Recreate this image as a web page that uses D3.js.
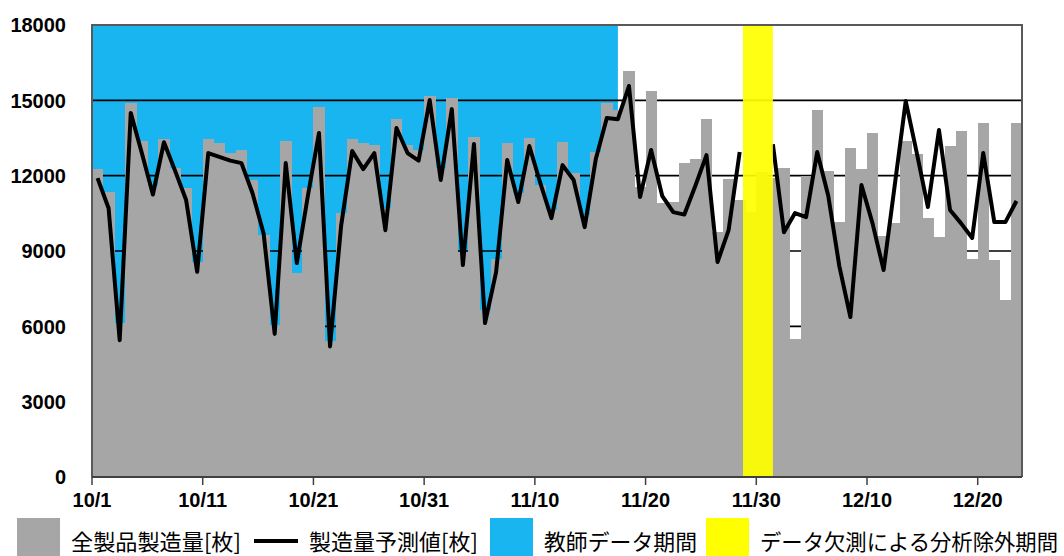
<html>
<head>
<meta charset="utf-8">
<script src="https://d3js.org/d3.v7.min.js"></script>
<style>
  body { margin: 0; background: #fff; }
  text { font-family: "Liberation Sans", Arial, sans-serif; }
  .jp { font-family: "Noto Sans CJK JP", sans-serif; }
</style>
</head>
<body>
<svg id="chart" width="1064" height="556"></svg>
<script>
// daily categories 10/1 .. 12/23
var days = [
  "10/1","10/2","10/3","10/4","10/5","10/6","10/7","10/8","10/9","10/10",
  "10/11","10/12","10/13","10/14","10/15","10/16","10/17","10/18","10/19","10/20",
  "10/21","10/22","10/23","10/24","10/25","10/26","10/27","10/28","10/29","10/30",
  "10/31","11/1","11/2","11/3","11/4","11/5","11/6","11/7","11/8","11/9",
  "11/10","11/11","11/12","11/13","11/14","11/15","11/16","11/17","11/18","11/19",
  "11/20","11/21","11/22","11/23","11/24","11/25","11/26","11/27","11/28","11/29",
  "11/30","12/1","12/2","12/3","12/4","12/5","12/6","12/7","12/8","12/9",
  "12/10","12/11","12/12","12/13","12/14","12/15","12/16","12/17","12/18","12/19",
  "12/20","12/21","12/22","12/23"
];
var tickDays = ["10/1","10/11","10/21","10/31","11/10","11/20","11/30","12/10","12/20"];
var yTicks = [0, 3000, 6000, 9000, 12000, 15000, 18000];

// 全製品製造量[枚]
var production = [
  12260,11350,6130,14890,13380,11600,13460,12300,11500,8560,
  13460,13300,12900,13020,11830,9640,6050,13380,8120,11500,
  14740,5400,10510,13450,13300,13220,10710,14250,13220,13020,
  15170,12300,15090,8960,13540,6650,8680,13300,11300,13500,
  11630,10630,13340,12100,10430,12940,14890,14600,16170,11550,
  15370,10900,10950,12500,12660,14250,9750,11870,11030,10550,
  12150,11900,12300,5500,12000,14620,12180,10150,13100,12260,
  13700,9600,10100,13380,12860,10310,9560,13180,13780,8700,
  14100,8650,7050,14100
];
// 製造量予測値[枚] (null = 欠測)
var forecast = [
  11900,10700,5450,14500,12900,11250,13330,12200,11030,8170,
  12900,12750,12600,12500,11300,9700,5700,12500,8520,11200,
  13700,5200,10000,12980,12260,12900,9830,13900,12900,12600,
  15010,11830,14650,8440,13260,6130,8160,12620,10950,13180,
  11700,10310,12420,11830,9950,12650,14300,14250,15570,11150,
  13020,11200,10550,10450,11600,12820,8560,9830,12940,null,
  null,13250,9750,10510,10350,12940,11200,8400,6370,11630,
  10100,8240,11600,14970,12900,10750,13820,10630,10100,9520,
  12900,10150,10150,10990
];

var teachPeriod = ["10/1", "11/17"];     // 教師データ期間
var missingPeriod = ["11/29", "12/1"];   // データ欠測による分析除外期間

var svg = d3.select("#chart");
var pLeft = 92, pRight = 1022, pTop = 25, pBottom = 477;

var x = d3.scaleBand().domain(days).range([pLeft, pRight]).padding(0);
var y = d3.scaleLinear().domain([0, 18000]).range([pBottom, pTop]);
var bw = x.bandwidth();

// teacher period (behind grid)
svg.append("rect")
  .attr("x", x(teachPeriod[0]))
  .attr("y", pTop)
  .attr("width", x(teachPeriod[1]) + bw / 2 - x(teachPeriod[0]))
  .attr("height", pBottom - pTop)
  .attr("fill", "#19b5f0");

// grid
svg.append("g").selectAll("line")
  .data(yTicks.filter(d => d > 0 && d < 18000))
  .join("line")
  .attr("x1", pLeft).attr("x2", pRight)
  .attr("y1", d => y(d)).attr("y2", d => y(d))
  .attr("stroke", "#000").attr("stroke-width", 1.6);

// bars
svg.append("g").selectAll("rect")
  .data(production)
  .join("rect")
  .attr("x", (d, i) => x(days[i]))
  .attr("width", bw + 0.4)
  .attr("y", d => y(d))
  .attr("height", d => pBottom - y(d))
  .attr("fill", "#a6a6a6")
  .attr("shape-rendering", "crispEdges");

// forecast line
svg.append("path")
  .datum(forecast)
  .attr("fill", "none")
  .attr("stroke", "#000")
  .attr("stroke-width", 4)
  .attr("stroke-linejoin", "round")
  .attr("d", d3.line()
    .defined(d => d !== null)
    .x((d, i) => x(days[i]) + bw / 2)
    .y(d => y(d)));

// missing period
svg.append("rect")
  .attr("x", x(missingPeriod[0]) - bw * 0.2)
  .attr("y", pTop)
  .attr("width", x(missingPeriod[1]) + bw / 2 - x(missingPeriod[0]) + bw * 0.2)
  .attr("height", pBottom - pTop)
  .attr("fill", "#ffff00")
  .attr("opacity", 0.92);

// frame
svg.append("path")
  .attr("d", "M" + pLeft + "," + pBottom + "V" + pTop + "H" + pRight + "V" + pBottom)
  .attr("fill", "none").attr("stroke", "#595959").attr("stroke-width", 2);

// y axis labels
svg.append("g").selectAll("text")
  .data(yTicks)
  .join("text")
  .attr("x", 66).attr("y", d => y(d))
  .attr("dy", "0.36em")
  .attr("text-anchor", "end")
  .attr("font-size", 20).attr("font-weight", "bold")
  .text(d => d);

// x axis
var xAxis = d3.axisBottom(x).tickValues(tickDays).tickSize(8).tickPadding(8)
  .tickSizeOuter(0);
var gx = svg.append("g").attr("transform", "translate(" + (-bw / 2) + "," + pBottom + ")").call(xAxis);
gx.select(".domain").attr("stroke", "#404040").attr("stroke-width", 2)
  .attr("d", "M" + (pLeft + bw / 2) + ",0H" + (pRight + bw / 2));
gx.selectAll(".tick line").attr("stroke", "#404040").attr("stroke-width", 1.5);
gx.selectAll(".tick text").attr("font-size", 20).attr("font-weight", "bold")
  .attr("font-family", "Liberation Sans, Arial, sans-serif").attr("fill", "#000");

// legend
var legend = [
  {type: "rect", color: "#a6a6a6", label: "全製品製造量[枚]", x: 17, w: 170},
  {type: "line", color: "#000", label: "製造量予測値[枚]", x: 254, w: 169},
  {type: "rect", color: "#19b5f0", label: "教師データ期間", x: 490, w: 153},
  {type: "rect", color: "#ffff00", label: "データ欠測による分析除外期間", x: 706, w: 298}
];
var lg = svg.append("g");
legend.forEach(function (d) {
  if (d.type === "rect") {
    lg.append("rect").attr("x", d.x).attr("y", 518).attr("width", 43).attr("height", 40).attr("fill", d.color);
  } else {
    lg.append("line").attr("x1", d.x).attr("x2", d.x + 44).attr("y1", 541).attr("y2", 541)
      .attr("stroke", d.color).attr("stroke-width", 4);
  }
  lg.append("text").attr("class", "jp")
    .attr("x", d.x + (d.type === "rect" ? 54 : 55)).attr("y", 542).attr("dy", "0.35em")
    .attr("font-size", 22)
    .attr("textLength", d.w).attr("lengthAdjust", "spacingAndGlyphs")
    .text(d.label);
});
</script>
</body>
</html>
